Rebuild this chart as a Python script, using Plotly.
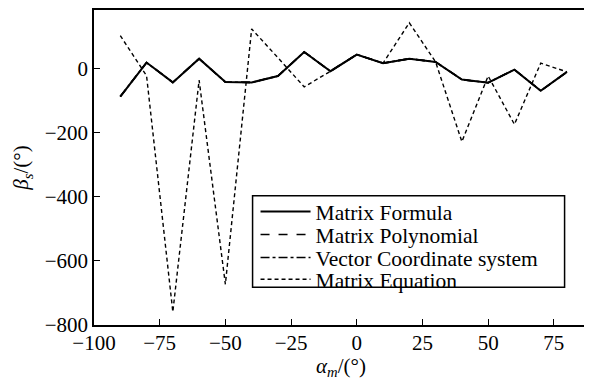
import plotly.graph_objects as go

alpha_m = [-90, -80, -70, -60, -50, -40, -30, -20, -10, 0, 10, 20, 30, 40, 50, 60, 70, 80]
matrix_formula = [-87, 19, -43, 31, -42, -43, -23, 52, -8, 44, 17, 31, 21, -34, -44, -3, -69, -10]
matrix_polynomial = [-87, 19, -43, 31, -42, -43, -23, 52, -8, 44, 17, 31, 21, -34, -44, -3, -69, -10]
vector_coord = [-87, 19, -43, 31, -42, -43, -23, 52, -8, 44, 17, 31, 21, -34, -44, -3, -69, -10]
matrix_equation = [103, -22, -759, -36, -673, 124, 34, -57, -8, 44, 17, 143, 21, -228, -23, -174, 17, -10]

x_ticks = [-100, -75, -50, -25, 0, 25, 50, 75]
x_ticktext = ["−100", "−75", "−50", "−25", "0", "25", "50", "75"]
y_ticks = [-800, -600, -400, -200, 0]
y_ticktext = ["−800", "−600", "−400", "−200", "0"]

series = [
    ("Matrix Equation", matrix_equation, "4px,3px", 1.4, "legend4", 0.145),
    ("Vector Coordinate system", vector_coord, "dashdot", 1.6, "legend3", 0.214),
    ("Matrix Polynomial", matrix_polynomial, "dash", 1.6, "legend2", 0.287),
    ("Matrix Formula", matrix_formula, "solid", 2.0, "legend", 0.36),
]

font = "Liberation Serif"

fig = go.Figure()
legends = {}
for name, ys, dash, w, lg, ly in series:
    fig.add_trace(go.Scatter(x=alpha_m, y=ys, mode="lines", name=name, legend=lg,
                             line=dict(color="black", dash=dash, width=w)))
    legends[lg] = dict(x=0.327, y=ly, xanchor="left", yanchor="middle",
                       bgcolor="rgba(0,0,0,0)", borderwidth=0,
                       font=dict(family=font, size=21.5, color="black"),
                       itemwidth=50)

fig.add_shape(type="rect", xref="paper", yref="paper",
              x0=0.321, x1=0.9526, y0=0.12, y1=0.41,
              line=dict(color="black", width=1.5), fillcolor="white", layer="below")

fig.update_layout(
    width=584, height=372,
    margin=dict(l=86, r=4, t=0, b=55),
    paper_bgcolor="white", plot_bgcolor="white",
    font=dict(family=font, size=21, color="black"),
    showlegend=True,
    **legends,
    xaxis=dict(range=[-100, 88], tickvals=x_ticks, ticktext=x_ticktext,
               ticks="inside", ticklen=6, tickcolor="black", tickwidth=1.2,
               showline=True, linecolor="black", linewidth=1.5, mirror=True,
               showgrid=False, zeroline=False, tickfont=dict(family=font, size=21),
               ticklabelstandoff=-2,
               title=dict(text="<i>α<sub>m</sub></i>/(°)", standoff=6,
                          font=dict(family=font, size=21))),
    yaxis=dict(range=[-800, 183], tickvals=y_ticks, ticktext=y_ticktext,
               ticks="inside", ticklen=6, tickcolor="black", tickwidth=1.2,
               showline=True, linecolor="black", linewidth=1.5, mirror=True,
               showgrid=False, zeroline=False, tickfont=dict(family=font, size=21),
               title=dict(text="<i>β<sub>s</sub></i>/(°)", standoff=10,
                          font=dict(family=font, size=21))),
)

fig.write_html("out.html")
